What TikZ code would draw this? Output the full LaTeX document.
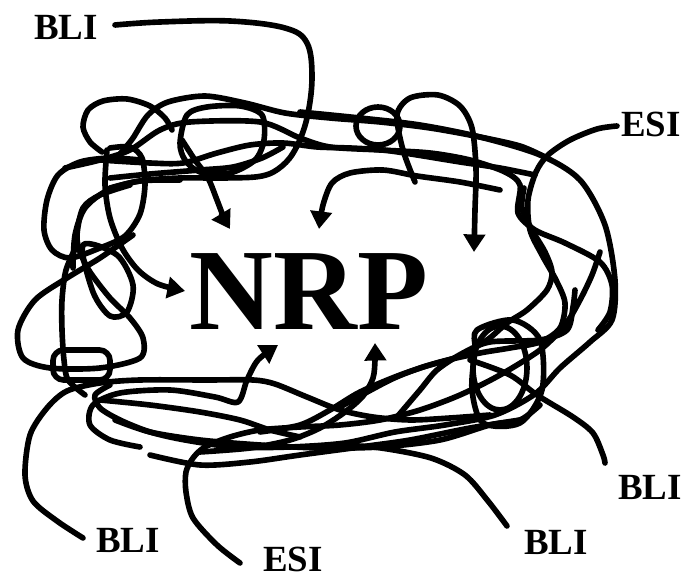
\documentclass[tikz,border=0pt]{standalone}
\usepackage{fontspec}
\setmainfont{Liberation Serif}
\usetikzlibrary{arrows.meta}

\tikzset{
  scribble/.style={line width=3.2pt, line cap=round, line join=round},
  inward/.style={scribble, -{Triangle[length=10pt,width=12pt]}},
  tag/.style={font=\fontsize{21}{21}\selectfont\bfseries, inner sep=0pt},
  core/.style={font=\fontsize{66}{66}\selectfont\bfseries, inner sep=0pt},
}

\begin{document}
\begin{tikzpicture}[x=0.02cm, y=-0.02cm]
    \useasboundingbox (0,0) rectangle (698,577);

    % Labels
    \node [core] (nrp) at (309,292) {NRP};
    \node [tag] (bliA) at (66,27) {BLI};
    \node [tag] (esiA) at (651,124) {ESI};
    \node [tag] (bliR) at (650,487) {BLI};
    \node [tag] (bliBR) at (556,542) {BLI};
    \node [tag] (bliBL) at (128,540) {BLI};
    \node [tag] (esiB) at (293,559) {ESI};

    % Free ends of the leads
    \coordinate (bliAend) at (115,25);
    \coordinate (esiAend) at (617,126);
    \coordinate (bliRend) at (605,463);
    \coordinate (bliBRend) at (507,526);
    \coordinate (bliBLend) at (83,538);
    \coordinate (esiBend) at (240,563);

    % Leads
    \draw [scribble] plot[smooth, tension=0.6] coordinates {(bliAend) (160,22) (230,21) (285,28) (307,43) (312,78) (307,118) (296,148) (282,166) (262,176) (225,178) (180,178) (140,181) (110,188)};
    \draw [scribble] plot[smooth] coordinates {(esiAend) (597,129) (570,140) (548,155) (536,172) (528,200) (530,230) (542,255) (556,280) (565,303) (560,328) (540,342) (510,348) (480,353) (440,362) (400,375) (360,392) (330,410) (300,425) (260,432)};
    \draw [scribble] plot[smooth] coordinates {(bliBLend) (57,521) (33,501) (25,475) (30,435) (47,408) (67,391) (100,383) (140,380) (207,380) (253,380) (275,384) (307,397) (340,410) (373,417) (410,420) (450,418) (490,415)};
    \draw [scribble] plot[smooth] coordinates {(esiBend) (217,545) (193,518) (186,492) (186,472) (193,458) (205,447) (230,437) (260,430) (300,427) (340,425) (380,420) (420,410) (460,395) (500,375) (540,350) (565,325) (580,300) (592,275) (600,252)};
    \draw [scribble] plot[smooth] coordinates {(340,445) (381,448) (431,458) (465,475) (488,501) (bliBRend)};
    \draw [scribble] plot[smooth] coordinates {(470,360) (510,375) (537,395) (573,417) (593,433) (603,455) (bliRend)};

    % Tangle, top
    \draw [scribble] plot[smooth] coordinates {(300,112) (360,118) (420,125) (480,137) (540,155) (580,180) (605,225) (615,280) (612,320) (590,342) (560,368) (535,394) (495,415) (445,425) (395,432) (345,443) (290,447) (235,447) (185,440) (150,432) (120,420) (100,408) (95,395) (110,385)};
    \draw [scribble] plot[smooth] coordinates {(115,160) (125,148) (133,138) (148,115) (168,102) (205,96) (245,103) (285,113) (330,118) (380,122) (430,128) (480,137) (520,146) (545,157)};
    \draw [scribble] plot[smooth] coordinates {(65,168) (100,160) (130,150) (160,130) (190,122) (260,122) (300,138) (330,147) (380,150) (430,153) (470,160) (505,172) (520,185) (518,213) (535,230) (565,243) (600,262) (612,285) (610,312) (598,330)};
    \draw [scribble] plot[smooth] coordinates {(100,160) (150,163) (183,163) (217,153) (250,145) (283,143) (317,147) (350,148) (383,150) (417,155) (460,162) (500,168) (535,175)};
    \draw [scribble] plot[smooth] coordinates {(110,178) (150,174) (200,170) (233,167) (262,158) (283,147)};
    \draw [scribble] plot[smooth] coordinates {(102,152) (90,142) (83,127) (88,110) (103,101) (127,99) (150,106) (165,118) (172,130)};
    \draw [scribble] plot[smooth cycle] coordinates {(180,143) (187,115) (207,107) (240,106) (262,115) (264,140) (255,160) (230,173) (200,172) (185,160)};
    \draw [scribble] (378,126) ellipse [x radius=22, y radius=19];

    % Tangle, left
    \draw [scribble] plot[smooth] coordinates {(140,160) (110,158) (80,162) (58,175) (47,200) (44,230) (52,250) (70,258) (100,248) (125,236) (140,214) (145,185) (142,158) (130,147) (110,148)};
    \draw [scribble] plot[smooth] coordinates {(73,268) (75,235) (85,208) (108,190) (140,181) (180,180)};
    \draw [scribble] plot[smooth] coordinates {(133,235) (100,258) (67,278) (35,300) (18,330) (23,358) (50,368) (100,368) (140,358) (143,338) (130,318) (110,298) (90,272) (80,252) (77,235) (83,208) (100,195) (130,185)};
    \draw [scribble] plot[smooth] coordinates {(77,245) (66,270) (62,300) (62,330) (64,360) (68,380) (85,395)};
    \draw [scribble] plot[smooth cycle] coordinates {(83,245) (117,255) (133,285) (127,312) (110,316) (93,292)};
    \draw [scribble, rounded corners=6pt] (53,350) rectangle (110,380);

    % Tangle, bottom and right
    \draw [scribble] plot[smooth] coordinates {(115,420) (150,432) (200,440) (260,445) (320,448) (380,447) (440,440) (490,425) (520,420) (540,405)};
    \draw [scribble] plot[smooth] coordinates {(150,455) (200,465) (250,462) (300,455) (360,447) (410,440) (470,428) (520,420)};
    \draw [scribble] plot[smooth] coordinates {(100,400) (150,405) (200,412) (240,420) (270,430) (300,437)};
    \draw [scribble] plot[smooth] coordinates {(340,407) (390,380) (423,367) (457,357) (487,340) (507,323) (527,310) (547,290) (552,272) (545,252) (532,230) (522,208) (524,188)};
    \draw [scribble] plot[smooth] coordinates {(397,417) (420,390) (437,370) (463,353) (490,342) (540,340) (567,330) (573,307) (575,290)};
    \draw [scribble] plot[smooth cycle] coordinates {(477,330) (513,320) (540,340) (542,390) (520,423) (483,423) (472,390) (475,350)};
    \draw [scribble] (500,368) ellipse [x radius=27, y radius=42];

    % Arrows into NRP
    \draw [inward] plot[smooth] coordinates {(182,140) (195,160) (208,178) (217,200) (224,218) (230,229)};
    \draw [inward] plot[smooth] coordinates {(500,190) (460,182) (417,176) (383,170) (350,173) (332,183) (323,205) (319,229)};
    \draw [inward] plot[smooth] coordinates {(415,182) (403,150) (397,115) (410,98) (438,95) (460,106) (472,128) (476,168) (475,210) (474,252)};
    \draw [inward] plot[smooth] coordinates {(107,150) (105,185) (110,218) (122,248) (138,270) (158,284) (185,291)};
    \draw [inward] plot[smooth] coordinates {(140,447) (110,440) (90,425) (93,405) (120,393) (170,390) (215,397) (238,402) (247,380) (258,360) (278,345)};
    \draw [inward] plot[smooth] coordinates {(200,452) (250,448) (290,440) (320,428) (345,412) (363,396) (373,378) (375,360) (375,343)};
\end{tikzpicture}
\end{document}
